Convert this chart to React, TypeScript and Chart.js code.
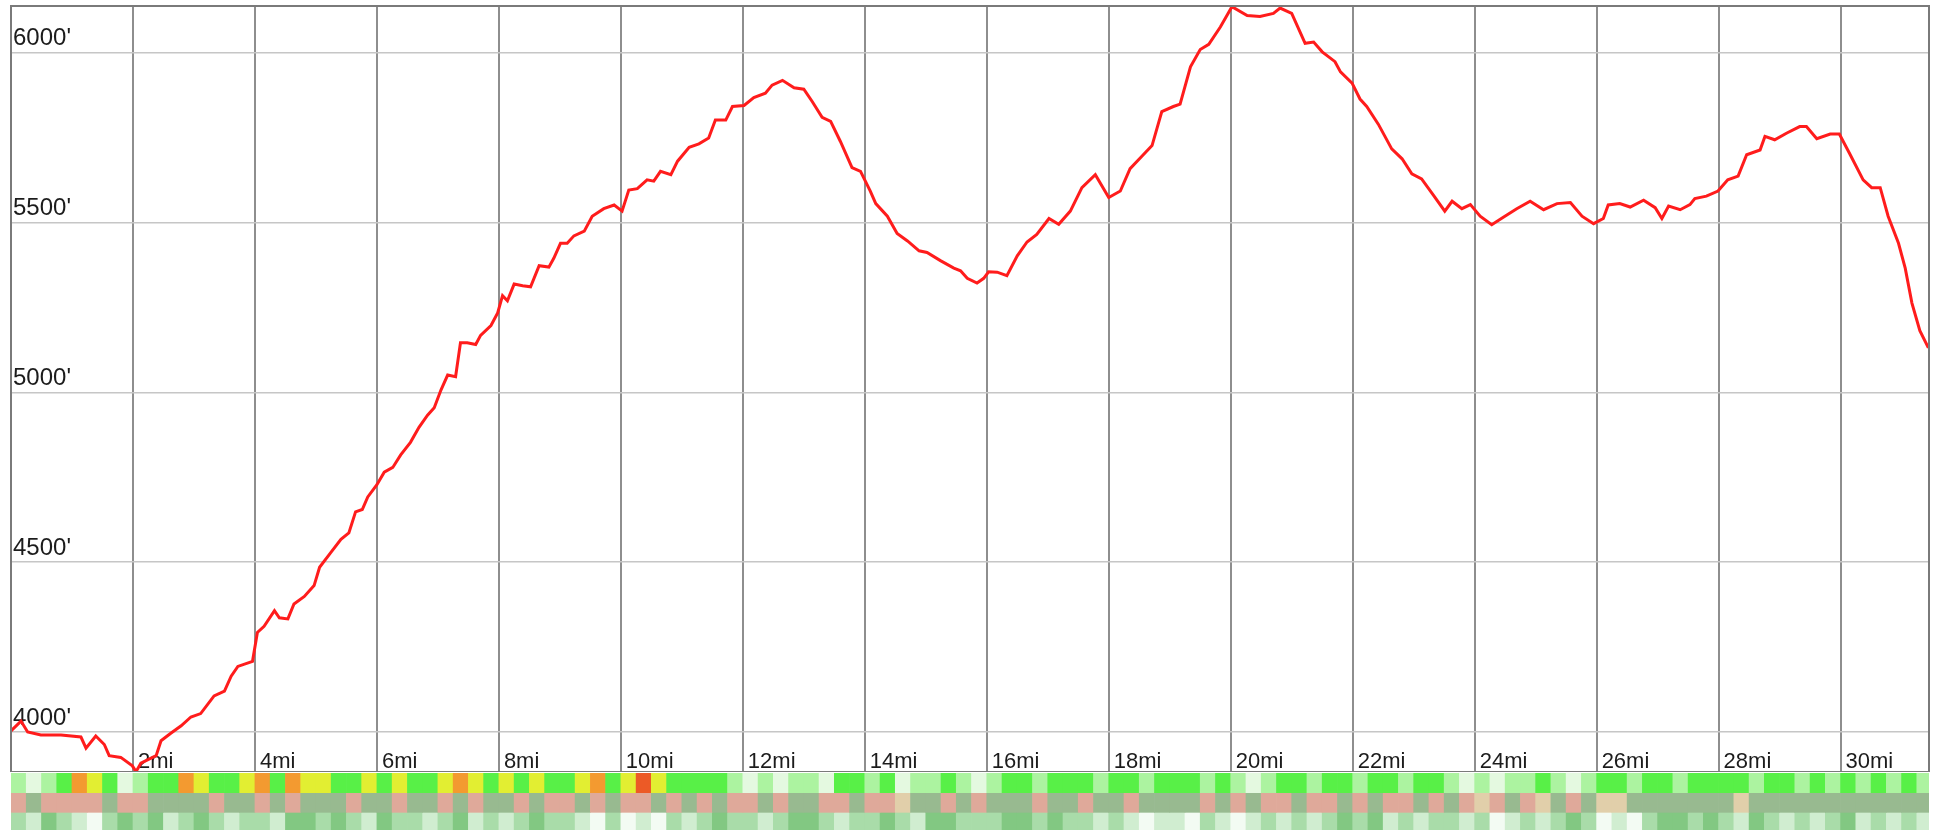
import React, { useEffect, useRef } from "react";
import { Chart, registerables } from "chart.js";

Chart.register(...registerables);

// Distance along the route (miles)
const distances = [
  0.0, 0.164, 0.273, 0.49, 0.82, 1.147, 1.23, 1.39, 1.53, 1.61, 1.8, 1.99, 2.05, 2.13, 2.38, 2.46, 2.62, 2.79, 2.95,
  3.11, 3.33, 3.5, 3.61, 3.72, 3.96, 4.04, 4.15, 4.32, 4.4, 4.54, 4.64, 4.81, 4.97, 5.06, 5.23, 5.41, 5.54, 5.65,
  5.76, 5.85, 6.0, 6.12, 6.26, 6.39, 6.55, 6.69, 6.83, 6.94, 7.05, 7.16, 7.29, 7.37, 7.48, 7.62, 7.7, 7.87, 7.98,
  8.06, 8.14, 8.25, 8.39, 8.52, 8.66, 8.82, 8.9, 9.01, 9.12, 9.23, 9.4, 9.53, 9.72, 9.89, 10.02, 10.13, 10.27,
  10.43, 10.54, 10.65, 10.82, 10.93, 11.12, 11.28, 11.44, 11.55, 11.72, 11.83, 12.02, 12.18, 12.37, 12.48, 12.65,
  12.84, 13.0, 13.14, 13.3, 13.44, 13.6, 13.79, 13.93, 14.09, 14.18, 14.37, 14.53, 14.7, 14.89, 15.02, 15.24,
  15.46, 15.57, 15.68, 15.84, 15.95, 16.03, 16.17, 16.33, 16.5, 16.66, 16.82, 17.02, 17.18, 17.37, 17.56, 17.78,
  18.0, 18.19, 18.35, 18.52, 18.71, 18.87, 19.06, 19.17, 19.34, 19.5, 19.64, 19.83, 20.02, 20.27, 20.48, 20.7,
  20.81, 21.0, 21.22, 21.36, 21.5, 21.71, 21.8, 21.99, 22.12, 22.23, 22.42, 22.64, 22.81, 22.97, 23.13, 23.32,
  23.51, 23.63, 23.79, 23.93, 24.09, 24.28, 24.47, 24.69, 24.91, 25.13, 25.35, 25.57, 25.76, 25.95, 26.11, 26.19,
  26.38, 26.55, 26.77, 26.96, 27.07, 27.18, 27.37, 27.53, 27.61, 27.8, 27.99, 28.15, 28.32, 28.46, 28.68, 28.76,
  28.92, 29.12, 29.33, 29.44, 29.61, 29.83, 29.98, 30.15, 30.37, 30.51, 30.65, 30.78, 30.95, 31.06, 31.17, 31.3,
  31.44,
];

// Elevation (feet)
const elevations = [
  4003, 4032, 4000, 3991, 3991, 3985, 3952, 3988, 3963, 3930, 3925, 3900, 3883, 3908, 3930, 3974, 3996, 4018, 4044,
  4054, 4106, 4120, 4164, 4193, 4208, 4293, 4311, 4357, 4336, 4333, 4377, 4399, 4431, 4485, 4525, 4567, 4586, 4648,
  4655, 4692, 4728, 4765, 4779, 4816, 4853, 4897, 4933, 4955, 5007, 5051, 5046, 5146, 5146, 5141, 5168, 5197, 5234,
  5285, 5270, 5319, 5314, 5311, 5373, 5369, 5395, 5439, 5439, 5461, 5475, 5519, 5541, 5552, 5534, 5596, 5600,
  5626, 5622, 5651, 5641, 5681, 5722, 5732, 5749, 5802, 5802, 5842, 5845, 5868, 5881, 5905, 5919,
  5897, 5893, 5856, 5810, 5798, 5739, 5662, 5651, 5593, 5556, 5519, 5468, 5446, 5417, 5412, 5388,
  5366, 5358, 5336, 5322, 5336, 5355, 5354, 5344, 5402, 5443, 5465, 5512, 5495, 5534, 5603, 5641,
  5574, 5593, 5659, 5691, 5727, 5827, 5842, 5849, 5959, 6010, 6025, 6076, 6136, 6110, 6107, 6116,
  6132, 6116, 6028, 6032, 6003, 5974, 5944, 5911, 5864, 5842, 5790, 5717, 5688, 5644, 5629, 5582,
  5534, 5563, 5541, 5553, 5519, 5494, 5516, 5541, 5563, 5538, 5556, 5559, 5519, 5497, 5512, 5552,
  5556, 5546, 5566, 5544, 5512, 5549, 5538, 5553, 5571, 5578, 5593, 5626, 5637, 5700, 5714, 5754,
  5744, 5764, 5783, 5783, 5747, 5761, 5761, 5703, 5626, 5603, 5603, 5519, 5439, 5366, 5263, 5182,
  5131,
];

const xTickValues = [2, 4, 6, 8, 10, 12, 14, 16, 18, 20, 22, 24, 26, 28, 30];
const yTickValues = [4000, 4500, 5000, 5500, 6000];
const xMin = 0;
const xMax = 31.45;
const yMin = 3882;
const yMax = 6138;

// Bands under the profile: one code per quarter mile
const cellSize = 0.25;
const stripRows = ["grade", "surface", "shade"];
const gradeCells = (
  "LWLG OYGW LGGO YGGY OGOY YGGY GYGG YOYG YGYG GYOG YRYG GGGL WLWL LWGG LGWL LGLW " +
  "LGGL GGGL GGLG GGLG LWLG GLGG LGGL GGLW LWLL GLWL GGLG GLGG GGLG GLGL GLGL GL"
).replace(/ /g, "").split("");
const surfaceCells = (
  "PSPP PPSP PSSS SPSS PSPS SSPS SPSS PSPS SPSP PSPS PPSP SPSP PSPS SPPS PPTS SPSP " +
  "SSSP SSPS SPSS SSPS PSPP SPPS PSPP SPSP TPSP TSPS TTSS SSSS STSS SSSS SSSS SS"
).replace(/ /g, "").split("");
const shadeCells = (
  "MPDM PWMD MDPM DMPM MPDD MDMP DMMP MDPM PMDM MPWM WPWM PMDM MPMD DMPM MDMP DDMM " +
  "MDDM DMMP MPWP PWMP WPMP MPMD MDPM PMMP MWPM PMDM WPWM DDMD MPDM PMPM DPMP MP"
).replace(/ /g, "").split("");

const gradeColors: Record<string, string> = {
  W: "#e4f9e0", L: "#acf3a0", G: "#58f047", Y: "#e2ee32", O: "#f39a30", R: "#ec5a26",
};
const surfaceColors: Record<string, string> = { P: "#dfa99a", S: "#98ba90", T: "#e1cfaa" };
const shadeColors: Record<string, string> = { D: "#82c882", M: "#a9dca9", P: "#d0edd0", W: "#f3fbf3" };

const FONT = "'Liberation Sans', Arial, Helvetica, sans-serif";

const framePlugin = {
  id: "frame",
  afterDraw(chart: any) {
    const { ctx, chartArea: a } = chart;
    ctx.save();
    ctx.strokeStyle = "#7a7a7a";
    ctx.lineWidth = 2;
    ctx.strokeRect(a.left, a.top, a.right - a.left, a.bottom - a.top);
    ctx.restore();
  },
};

function buildStrip(cells: string[], row: string, palette: Record<string, string>) {
  return {
    data: cells.map((c, i) => ({ x: [i * cellSize, Math.min((i + 1) * cellSize, xMax)], y: row })),
    backgroundColor: cells.map((c) => palette[c]),
    borderWidth: 0,
    barPercentage: 1,
    categoryPercentage: 1,
    grouped: false,
  };
}

export default function App() {
  const mainRef = useRef<HTMLCanvasElement>(null);
  const stripRef = useRef<HTMLCanvasElement>(null);

  useEffect(() => {
    const main = new Chart(mainRef.current!, {
      type: "line",
      data: {
        datasets: [
          {
            data: distances.map((d, i) => ({ x: d, y: elevations[i] })),
            borderColor: "#ff1c1c",
            borderWidth: 3,
            pointRadius: 0,
            tension: 0,
            fill: false,
          },
        ],
      },
      options: {
        animation: false,
        responsive: false,
        maintainAspectRatio: false,
        layout: { padding: { left: 7, right: 6, top: 6, bottom: 0 } },
        plugins: { legend: { display: false }, tooltip: { enabled: false }, title: { display: false } },
        scales: {
          x: {
            type: "linear",
            min: xMin,
            max: xMax,
            afterBuildTicks: (s: any) => {
              s.ticks = xTickValues.map((v) => ({ value: v }));
            },
            afterFit: (s: any) => {
              s.paddingLeft = 0;
              s.paddingRight = 0;
            },
            grid: { color: "#8e8e8e", lineWidth: 2, drawTicks: false },
            border: { display: true, color: "#7a7a7a", width: 2 },
            ticks: {
              mirror: true,
              align: "start",
              labelOffset: 5,
              padding: 0,
              maxRotation: 0,
              autoSkip: false,
              color: "#1c1c1c",
              font: { family: FONT, size: 22, lineHeight: 0.9 },
              callback: (v: any) => `${v}mi`,
            },
          },
          y: {
            type: "linear",
            min: yMin,
            max: yMax,
            afterBuildTicks: (s: any) => {
              s.ticks = yTickValues.map((v) => ({ value: v }));
            },
            afterFit: (s: any) => {
              s.paddingTop = 0;
              s.paddingBottom = 0;
            },
            grid: { color: "#c6c6c6", lineWidth: 1.5, drawTicks: false },
            border: { display: true, color: "#7a7a7a", width: 2 },
            ticks: {
              mirror: true,
              padding: 2,
              labelOffset: -14,
              color: "#1c1c1c",
              font: { family: FONT, size: 24 },
              callback: (v: any) => `${v}'`,
            },
          },
        },
      },
      plugins: [framePlugin],
    } as any);

    const strip = new Chart(stripRef.current!, {
      type: "bar",
      data: {
        labels: stripRows,
        datasets: [
          buildStrip(gradeCells, "grade", gradeColors),
          buildStrip(surfaceCells, "surface", surfaceColors),
          buildStrip(shadeCells, "shade", shadeColors),
        ],
      },
      options: {
        animation: false,
        responsive: false,
        maintainAspectRatio: false,
        indexAxis: "y",
        layout: { padding: { left: 11, right: 6, top: 0, bottom: 0 } },
        plugins: { legend: { display: false }, tooltip: { enabled: false } },
        scales: {
          x: { type: "linear", min: xMin, max: xMax, display: false },
          y: { type: "category", display: false },
        },
      },
    } as any);

    return () => {
      main.destroy();
      strip.destroy();
    };
  }, []);

  return (
    <div
      style={{
        position: "absolute",
        left: 0,
        top: 0,
        width: 1935,
        height: 830,
        background: "#ffffff",
        overflow: "hidden",
      }}
    >
      <canvas
        ref={mainRef}
        width={1935}
        height={772}
        style={{ position: "absolute", left: 0, top: 0, width: 1935, height: 772, display: "block" }}
      />
      <canvas
        ref={stripRef}
        width={1935}
        height={59}
        style={{ position: "absolute", left: 0, top: 773, width: 1935, height: 59, display: "block" }}
      />
    </div>
  );
}
